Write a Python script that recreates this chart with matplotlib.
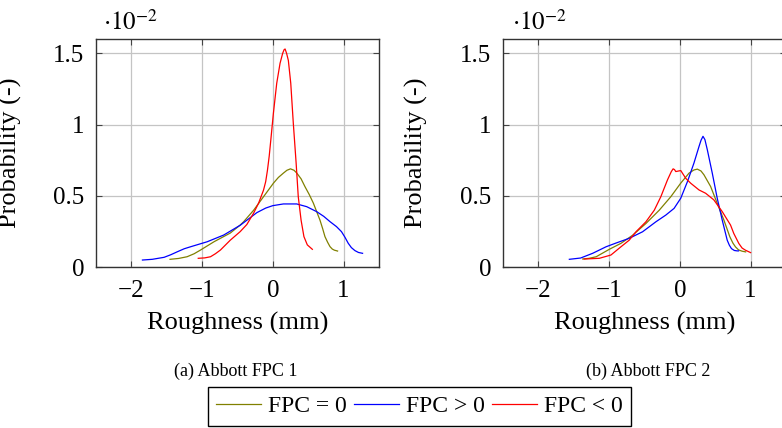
import matplotlib
matplotlib.use("Agg")
import matplotlib.pyplot as plt
from matplotlib.lines import Line2D
from matplotlib.ticker import FixedLocator, FuncFormatter

plt.rcParams['font.family'] = ['Liberation Serif', 'DejaVu Serif']
plt.rcParams['mathtext.fontset'] = 'stix'
plt.rcParams['axes.unicode_minus'] = True

# ---------------- data (values in units of 1e-2) ----------------
series_names = ["FPC = 0", "FPC > 0", "FPC < 0"]
series_colors = ["#808000", "#0000ff", "#ff0000"]
captions = ["(a) Abbott FPC 1", "(b) Abbott FPC 2"]
x_ticks = [-2, -1, 0, 1]
y_ticks = [0, 0.5, 1, 1.5]

# Panel (a)
a_zero_x = [-1.45, -1.33, -1.21, -1.11, -1.02, -0.83, -0.6, -0.46, -0.41, -0.27, -0.13, 0.01, 0.08,
            0.15, 0.2, 0.25, 0.3, 0.34, 0.4, 0.455, 0.515, 0.573, 0.62, 0.667, 0.705, 0.737, 0.775,
            0.808, 0.84, 0.87, 0.915]
a_zero_y = [0.056, 0.062, 0.074, 0.095, 0.121, 0.179, 0.24, 0.296, 0.32, 0.40, 0.495, 0.59, 0.63,
            0.66, 0.68, 0.69, 0.68, 0.66, 0.62, 0.565, 0.51, 0.45, 0.39, 0.33, 0.27, 0.215, 0.175,
            0.145, 0.128, 0.12, 0.114]
a_pos_x = [-1.84, -1.70, -1.534, -1.44, -1.347, -1.25, -1.16, -0.926, -0.693, -0.459, -0.225, -0.1,
           0.0, 0.15, 0.338, 0.479, 0.62, 0.72, 0.808, 0.9, 0.97, 1.02, 1.066, 1.11, 1.16, 1.21, 1.268]
a_pos_y = [0.051, 0.056, 0.07, 0.088, 0.109, 0.13, 0.144, 0.179, 0.226, 0.295, 0.383, 0.415,
           0.432, 0.444, 0.444, 0.425, 0.39, 0.357, 0.32, 0.285, 0.25, 0.21, 0.168, 0.138, 0.117,
           0.104, 0.098]
a_neg_x = [-1.052, -0.96, -0.879, -0.81, -0.739, -0.6, -0.46, -0.366, -0.27, -0.2, -0.131, -0.1,
           -0.075, -0.05, -0.028, 0.009, 0.056, 0.103, 0.14, 0.16, 0.174, 0.195, 0.22, 0.254, 0.29,
           0.33, 0.36, 0.40, 0.44, 0.488, 0.559]
a_neg_y = [0.063, 0.066, 0.074, 0.095, 0.121, 0.19, 0.25, 0.30, 0.38, 0.45, 0.54, 0.60,
           0.68, 0.78, 0.89, 1.08, 1.29, 1.43, 1.50, 1.525, 1.53, 1.50, 1.45, 1.29, 1.01,
           0.73, 0.495, 0.33, 0.215, 0.157, 0.126]

# Panel (b)
b_zero_x = [-1.37, -1.28, -1.18, -0.995, -0.83, -0.665, -0.478, -0.29, -0.126, 0.014, 0.131, 0.2,
            0.248, 0.3, 0.342, 0.436, 0.529, 0.623, 0.707, 0.75, 0.787, 0.83, 0.88, 0.93]
b_zero_y = [0.058, 0.063, 0.074, 0.126, 0.168, 0.225, 0.307, 0.40, 0.495, 0.59, 0.66, 0.682,
            0.688, 0.675, 0.648, 0.566, 0.448, 0.331, 0.214, 0.17, 0.143, 0.122, 0.113, 0.108]
b_pos_x = [-1.559, -1.40, -1.23, -1.04, -0.9, -0.714, -0.525, -0.337, -0.197, -0.08, 0.014, 0.108,
           0.2, 0.272, 0.3, 0.328, 0.355, 0.389, 0.459, 0.529, 0.6, 0.67, 0.7, 0.73, 0.77, 0.81, 0.83]
b_pos_y = [0.056, 0.065, 0.098, 0.144, 0.17, 0.203, 0.249, 0.319, 0.366, 0.413, 0.484, 0.60,
           0.73, 0.847, 0.89, 0.918, 0.895, 0.824, 0.66, 0.484, 0.33, 0.19, 0.155, 0.131, 0.118,
           0.115, 0.115]
b_neg_x = [-1.35, -1.136, -0.972, -0.83, -0.714, -0.618, -0.478, -0.36, -0.267, -0.173, -0.12,
           -0.094, -0.075, -0.056, 0.014, 0.084, 0.155, 0.272, 0.365, 0.482, 0.6, 0.717, 0.763,
           0.834, 0.88, 0.927, 1.0]
b_neg_y = [0.058, 0.063, 0.086, 0.144, 0.19, 0.249, 0.319, 0.40, 0.495, 0.613, 0.67,
           0.69, 0.685, 0.671, 0.678, 0.624, 0.589, 0.542, 0.519, 0.472, 0.39, 0.296, 0.237,
           0.167, 0.135, 0.12, 0.103]

panels = [
    [(a_zero_x, a_zero_y), (a_pos_x, a_pos_y), (a_neg_x, a_neg_y)],
    [(b_zero_x, b_zero_y), (b_pos_x, b_pos_y), (b_neg_x, b_neg_y)],
]

# ---------------- figure ----------------
W, H = 782, 428
fig = plt.figure(figsize=(W / 100, H / 100), dpi=100)

def fx(px):
    return px / W

def fy(py):
    return 1 - py / H

axes_px = [(95.7, 39.0, 379.0, 267.3), (502.7, 39.0, 786.0, 267.3)]
ylabel_x = [22, 428]
mult_x = [103, 512]
caption_x = [236, 648]

def fmt(v, pos):
    s = ('%g' % v)
    return s.replace('-', '\u2212')

for i, (l, t, r, b) in enumerate(axes_px):
    ax = fig.add_axes([fx(l), fy(b), (r - l) / W, (b - t) / H])
    for (xs, ys), c in zip(panels[i], series_colors):
        ax.plot(xs, ys, color=c, lw=0.9, solid_joinstyle='round')
    ax.set_xlim(-2.5, 1.5)
    ax.set_ylim(0, 1.6)
    ax.xaxis.set_major_locator(FixedLocator(x_ticks))
    ax.yaxis.set_major_locator(FixedLocator(y_ticks))
    ax.xaxis.set_major_formatter(FuncFormatter(fmt))
    ax.yaxis.set_major_formatter(FuncFormatter(fmt))
    ax.grid(True, color='#c4c4c4', lw=0.9)
    ax.set_axisbelow(True)
    ax.tick_params(direction='in', length=4, width=0.8, color='#444444',
                   top=True, right=True, labelsize=18, pad=8)
    ax.tick_params(axis='x', pad=9)
    for sp in ax.spines.values():
        sp.set_color('#333333')
        sp.set_linewidth(1.0)
    ax.set_xlabel('Roughness (mm)', fontsize=19, labelpad=7)
    ax.set_ylabel('Probability (-)', fontsize=19)
    ax.yaxis.set_label_coords((ylabel_x[i] - l) / (r - l), 0.5)
    fig.text(fx(mult_x[i]), fy(30), r'$\cdot 10^{-2}$', fontsize=18, ha='left', va='baseline')
    fig.text(fx(caption_x[i]), fy(371), captions[i], fontsize=13, ha='center', va='center')

handles = [Line2D([], [], color=c, lw=0.9) for c in series_colors]
leg = fig.legend(handles, series_names, loc='center', ncol=3,
                 bbox_to_anchor=(fx(419.5), fy(406.5)), fontsize=17,
                 frameon=True, fancybox=False, edgecolor='black', framealpha=1,
                 handlelength=1.9, handletextpad=0.3, columnspacing=0.3,
                 borderpad=0.35, borderaxespad=0)
leg.get_frame().set_linewidth(1.0)

fig.savefig('out.png', dpi=100)
